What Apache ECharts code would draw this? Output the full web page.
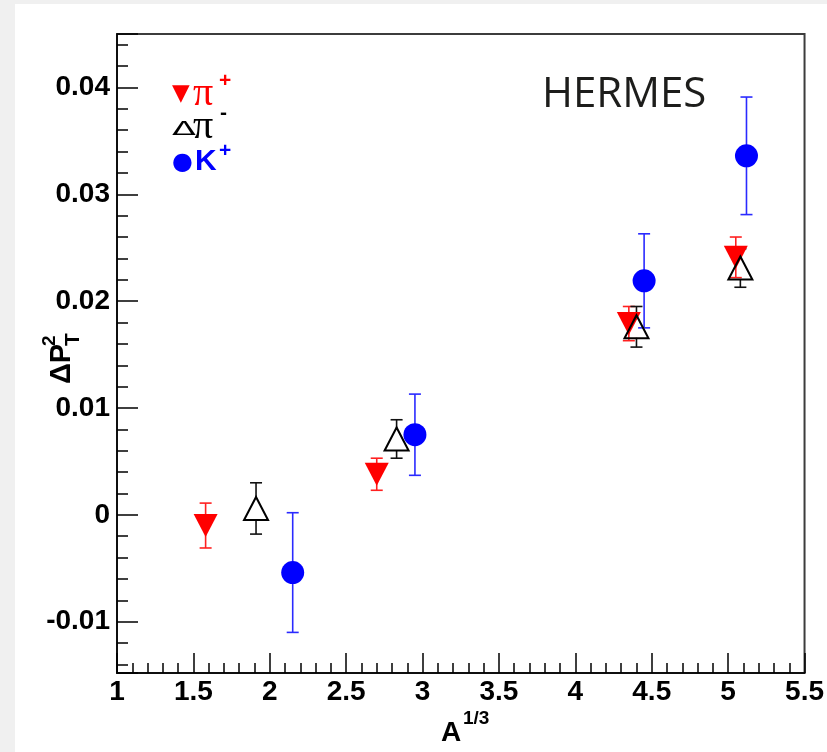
<!DOCTYPE html>
<html>
<head>
<meta charset="utf-8">
<script src="https://cdn.jsdelivr.net/npm/echarts@6/dist/echarts.min.js"></script>
<style>
  html, body { margin: 0; padding: 0; background: #fff; }
  #chart { width: 827px; height: 752px; }
</style>
</head>
<body>
<div id="chart"></div>
<script>
// values: x = A^(1/3), y = delta p_T^2, e = error bar half height
var piPlusX = [1.58, 2.70, 4.35, 5.05];
var piPlusY = [-0.0010, 0.0038, 0.0179, 0.0241];
var piPlusErr = [0.0021, 0.0015, 0.0016, 0.0019];

var piMinusX = [1.91, 2.83, 4.40, 5.08];
var piMinusY = [0.0006, 0.0071, 0.0176, 0.0231];
var piMinusErr = [0.0024, 0.0018, 0.0019, 0.0018];

var kPlusX = [2.15, 2.95, 4.45, 5.12];
var kPlusY = [-0.0054, 0.0075, 0.0219, 0.0336];
var kPlusErr = [0.0056, 0.0038, 0.0044, 0.0055];

var xTicks = [1, 1.5, 2, 2.5, 3, 3.5, 4, 4.5, 5, 5.5];
var yTicks = [-0.01, 0, 0.01, 0.02, 0.03, 0.04];

var myChart = echarts.init(document.getElementById('chart'));

function pts(xs, ys, es) {
    return xs.map(function (x, i) { return es ? [x, ys[i], es[i]] : [x, ys[i]]; });
}

// vertical error bar with caps, leaves a gap round the marker if asked
function errBar(color, gap) {
    return function (params, api) {
        var x = api.value(0), y = api.value(1), e = api.value(2);
        var top = api.coord([x, y + e]);
        var mid = api.coord([x, y]);
        var bot = api.coord([x, y - e]);
        var st = { stroke: color, lineWidth: 1.6 };
        var cap = 6;
        var kids = [];
        if (mid[1] - gap > top[1]) kids.push({ type: 'line', shape: { x1: top[0], y1: top[1], x2: top[0], y2: mid[1] - gap }, style: st });
        if (mid[1] + gap < bot[1]) kids.push({ type: 'line', shape: { x1: bot[0], y1: mid[1] + gap, x2: bot[0], y2: bot[1] }, style: st });
        kids.push({ type: 'line', shape: { x1: top[0] - cap, y1: top[1], x2: top[0] + cap, y2: top[1] }, style: st });
        kids.push({ type: 'line', shape: { x1: bot[0] - cap, y1: bot[1], x2: bot[0] + cap, y2: bot[1] }, style: st });
        return { type: 'group', children: kids };
    };
}

var bold = 'Liberation Sans';

var option = {
    animation: false,
    backgroundColor: '#fff',
    grid: {
        left: 117, right: 13, top: 34, bottom: 79,
        show: true,
        borderColor: '#3c3c3c',
        borderWidth: 2
    },
    xAxis: {
        type: 'value',
        min: 1, max: 5.5, interval: 0.5,
        axisLine: { show: true, onZero: false, lineStyle: { color: '#000', width: 1.5 } },
        axisTick: { show: true, inside: true, length: 20, lineStyle: { color: '#000', width: 1.5 } },
        minorTick: { show: true, splitNumber: 5, length: 10, lineStyle: { color: '#000', width: 1.5 } },
        splitLine: { show: false },
        axisLabel: {
            margin: 5, color: '#000', fontFamily: bold, fontWeight: 'bold', fontSize: 28,
            showMinLabel: true, showMaxLabel: true,
            formatter: function (v) { return xTicks.indexOf(v) >= 0 ? String(v) : ''; }
        }
    },
    yAxis: {
        type: 'value',
        min: -0.0148, max: 0.045, splitNumber: 6,
        axisLine: { show: true, onZero: false, lineStyle: { color: '#000', width: 1.5 } },
        axisTick: { show: true, inside: true, length: 21, lineStyle: { color: '#000', width: 1.5 } },
        minorTick: { show: true, splitNumber: 5, length: 11, lineStyle: { color: '#000', width: 1.5 } },
        splitLine: { show: false },
        axisLabel: {
            margin: 7, color: '#000', fontFamily: bold, fontWeight: 'bold', fontSize: 28,
            showMinLabel: false, showMaxLabel: false,
            formatter: function (v) {
                var r = Math.round(v * 1000) / 1000;
                for (var i = 0; i < yTicks.length; i++) {
                    if (Math.abs(yTicks[i] - r) < 1e-9) return String(yTicks[i]);
                }
                return '';
            }
        }
    },
    graphic: [
        // grey margin of the original slide
        { type: 'rect', left: 0, top: 0, shape: { width: 15, height: 752 }, style: { fill: '#f0f0f0' }, z: -10 },
        { type: 'rect', left: 0, top: 0, shape: { width: 827, height: 4 }, style: { fill: '#f0f0f0' }, z: -10 },
        // title
        { type: 'text', x: 542, y: 95, style: { text: 'HERMES', fill: '#1d1d1b', font: '42px "Open Sans"', textVerticalAlign: 'middle' } },
        // legend
        { type: 'text', x: 172, y: 94, style: { text: '\u25BC', fill: '#ff0000', font: '23px "DejaVu Sans"', textVerticalAlign: 'middle' } },
        { type: 'text', x: 193, y: 94, style: { text: '\u03C0', fill: '#ff0000', font: '40px "Liberation Serif"', textVerticalAlign: 'middle' } },
        { type: 'text', x: 219, y: 81, style: { text: '+', fill: '#ff0000', font: 'bold 21px "Liberation Sans"', textVerticalAlign: 'middle' } },
        { type: 'text', x: 172, y: 130, scaleY: 0.56, originX: 0, originY: 0, style: { text: '\u0394', fill: '#000', font: '35px "DejaVu Sans"', textVerticalAlign: 'middle' } },
        { type: 'text', x: 193, y: 127, style: { text: '\u03C0', fill: '#000', font: '40px "Liberation Serif"', textVerticalAlign: 'middle' } },
        { type: 'text', x: 220, y: 113, style: { text: '-', fill: '#000', font: 'bold 21px "Liberation Sans"', textVerticalAlign: 'middle' } },
        { type: 'text', x: 172, y: 163, style: { text: '\u25CF', fill: '#0000ff', font: '24px "DejaVu Sans"', textVerticalAlign: 'middle' } },
        { type: 'text', x: 195, y: 162, style: { text: 'K', fill: '#0000ff', font: 'bold 30px "Liberation Sans"', textVerticalAlign: 'middle' } },
        { type: 'text', x: 219, y: 151, style: { text: '+', fill: '#0000ff', font: 'bold 21px "Liberation Sans"', textVerticalAlign: 'middle' } },
        // x axis title A^(1/3)
        { type: 'text', x: 451, y: 733, style: { text: 'A', fill: '#000', font: 'bold 28px "Liberation Sans"', textAlign: 'center', textVerticalAlign: 'middle' } },
        { type: 'text', x: 463, y: 719, style: { text: '1/3', fill: '#000', font: 'bold 19px "Liberation Sans"', textVerticalAlign: 'middle' } },
        // y axis title delta P_T^2, turned to read upwards
        {
            type: 'group', x: 74, y: 384, rotation: Math.PI / 2,
            children: [
                { type: 'text', x: 0, y: -12, style: { text: '\u0394P', fill: '#000', font: 'bold 29px "Liberation Sans"', textVerticalAlign: 'middle' } },
                { type: 'text', x: 38, y: -24, style: { text: '2', fill: '#000', font: 'bold 19px "Liberation Sans"', textVerticalAlign: 'middle' } },
                { type: 'text', x: 38, y: -1, style: { text: 'T', fill: '#000', font: 'bold 21px "Liberation Sans"', textVerticalAlign: 'middle' } }
            ]
        }
    ],
    series: [
        {
            name: 'pi+ err', type: 'custom', renderItem: errBar('#ff2020', 0),
            data: pts(piPlusX, piPlusY, piPlusErr), silent: true
        },
        {
            name: 'pi+', type: 'scatter', symbol: 'triangle', symbolRotate: 180, symbolSize: [24, 23],
            itemStyle: { color: '#ff0000', opacity: 1 },
            data: pts(piPlusX, piPlusY)
        },
        {
            name: 'pi- err', type: 'custom', renderItem: errBar('#111', 11),
            data: pts(piMinusX, piMinusY, piMinusErr), silent: true
        },
        {
            name: 'pi-', type: 'scatter', symbol: 'triangle', symbolSize: [24, 23],
            itemStyle: { color: 'rgba(0,0,0,0)', borderColor: '#000', borderWidth: 2, opacity: 1 },
            data: pts(piMinusX, piMinusY)
        },
        {
            name: 'K+ err', type: 'custom', renderItem: errBar('#2a2aff', 0),
            data: pts(kPlusX, kPlusY, kPlusErr), silent: true
        },
        {
            name: 'K+', type: 'scatter', symbol: 'circle', symbolSize: 23,
            itemStyle: { color: '#0000ff', opacity: 1 },
            data: pts(kPlusX, kPlusY)
        }
    ]
};

myChart.setOption(option);
</script>
</body>
</html>
